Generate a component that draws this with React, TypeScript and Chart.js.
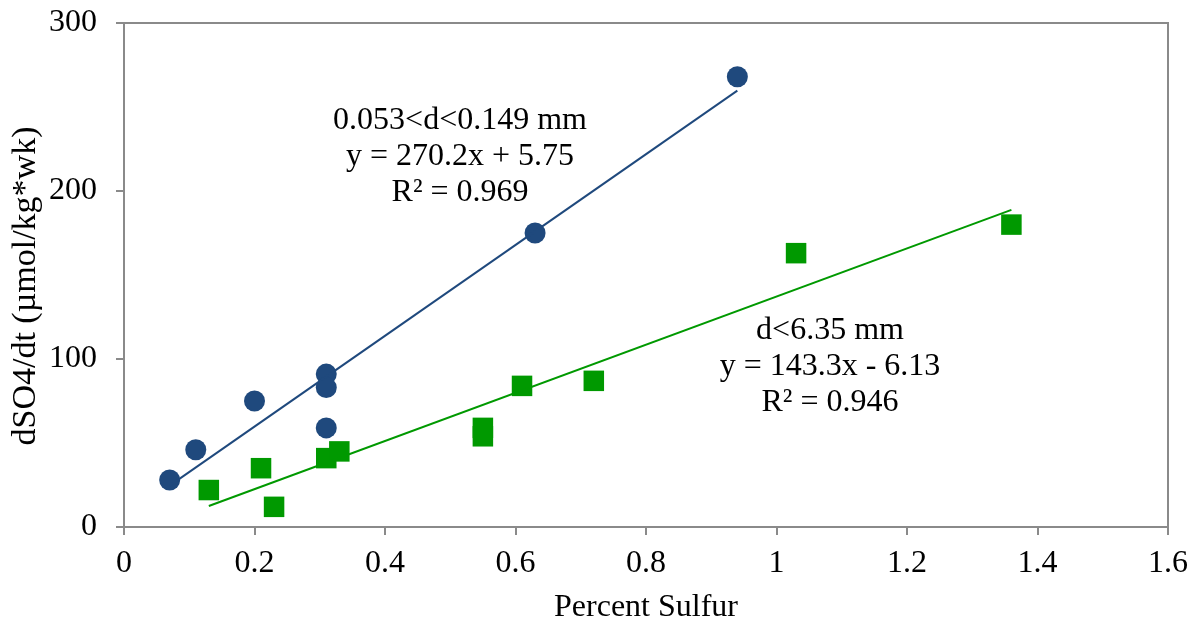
import React, { useEffect, useRef } from "react";
import { Chart, registerables } from "chart.js";

Chart.register(...registerables);

// Fine fraction 0.053<d<0.149 mm (blue circles)
const fineX = [0.07, 0.11, 0.2, 0.31, 0.31, 0.31, 0.63, 0.94];
const fineY = [28, 46, 75, 91, 83, 59, 175, 268];

// Coarse fraction d<6.35 mm (green squares)
const coarseX = [0.13, 0.21, 0.23, 0.31, 0.33, 0.55, 0.55, 0.61, 0.72, 1.03, 1.36];
const coarseY = [22, 35, 12, 41, 45, 59, 54, 84, 87, 163, 180];

// Linear trend lines as printed on the chart
const fineTrend = { slope: 270.2, intercept: 5.75 };
const coarseTrend = { slope: 143.3, intercept: -6.13 };

const fineLabel = ["0.053<d<0.149 mm", "y = 270.2x + 5.75", "R² = 0.969"];
const coarseLabel = ["d<6.35 mm", "y = 143.3x - 6.13", "R² = 0.946"];

const xTicks = [0, 0.2, 0.4, 0.6, 0.8, 1, 1.2, 1.4, 1.6];
const yTicks = [0, 100, 200, 300];

const xTitle = "Percent Sulfur";
const yTitle = "dSO4/dt (µmol/kg*wk)";

const BLUE = "#1F497D";
const GREEN = "#009900";
const AXIS = "#8a8a8a";
const FONT = "'Liberation Serif', 'Times New Roman', serif";
const FS = 32;

const zip = (xs: number[], ys: number[]) => xs.map((x, i) => ({ x, y: ys[i] }));
const trend = (xs: number[], t: { slope: number; intercept: number }) => {
  const lo = Math.min(...xs);
  const hi = Math.max(...xs);
  return [
    { x: lo, y: t.slope * lo + t.intercept },
    { x: hi, y: t.slope * hi + t.intercept },
  ];
};

const annotationPlugin = {
  id: "annots",
  afterDatasetsDraw(chart: any) {
    const { ctx, scales } = chart;
    const xs = scales.x;
    const ys = scales.y;
    const draw = (lines: string[], cx: number, cy: number) => {
      ctx.save();
      ctx.font = `${FS}px ${FONT}`;
      ctx.fillStyle = "#000";
      ctx.textAlign = "center";
      ctx.textBaseline = "middle";
      lines.forEach((l, i) => ctx.fillText(l, cx, cy + i * 36));
      ctx.restore();
    };
    draw(fineLabel, xs.getPixelForValue(0.515), ys.getPixelForValue(242));
    draw(coarseLabel, xs.getPixelForValue(1.082), ys.getPixelForValue(117));
  },
  afterDraw(chart: any) {
    const { ctx, chartArea } = chart;
    ctx.save();
    ctx.translate(26, (chartArea.top + chartArea.bottom) / 2 + 11);
    ctx.rotate(-Math.PI / 2);
    ctx.font = `34px ${FONT}`;
    ctx.fillStyle = "#000";
    ctx.textAlign = "center";
    ctx.textBaseline = "middle";
    ctx.fillText(yTitle, 0, 0);
    ctx.restore();
  },
};

const borderPlugin = {
  id: "frame",
  beforeDatasetsDraw(chart: any) {
    const { ctx, chartArea } = chart;
    ctx.save();
    ctx.strokeStyle = AXIS;
    ctx.lineWidth = 2;
    ctx.beginPath();
    ctx.moveTo(chartArea.left, chartArea.top);
    ctx.lineTo(chartArea.right, chartArea.top);
    ctx.lineTo(chartArea.right, chartArea.bottom);
    ctx.stroke();
    ctx.restore();
  },
};

export default function App() {
  const ref = useRef<HTMLCanvasElement | null>(null);

  useEffect(() => {
    if (!ref.current) return;
    const chart = new Chart(ref.current, {
      type: "scatter",
      data: {
        datasets: [
          {
            type: "line",
            data: trend(fineX, fineTrend),
            borderColor: BLUE,
            borderWidth: 2,
            pointRadius: 0,
            fill: false,
            order: 0,
          } as any,
          {
            type: "line",
            data: trend(coarseX, coarseTrend),
            borderColor: GREEN,
            borderWidth: 2,
            pointRadius: 0,
            fill: false,
            order: 0,
          } as any,
          {
            data: zip(fineX, fineY),
            backgroundColor: BLUE,
            borderColor: BLUE,
            pointStyle: "circle",
            pointRadius: 10.5,
            borderWidth: 0,
            order: 1,
          },
          {
            data: zip(coarseX, coarseY),
            backgroundColor: GREEN,
            borderColor: GREEN,
            pointStyle: "rect",
            pointRadius: 14.5,
            borderWidth: 0,
            order: 1,
          },
        ],
      },
      options: {
        animation: false,
        responsive: false,
        layout: { padding: { top: 23, right: 30, left: 0, bottom: 0 } },
        plugins: { legend: { display: false }, tooltip: { enabled: false } },
        scales: {
          x: {
            type: "linear",
            min: 0,
            max: 1.6,
            afterBuildTicks: (s: any) => {
              s.ticks = xTicks.map((v) => ({ value: v }));
            },
            afterFit: (s: any) => {
              s.height = 98;
              s.paddingLeft = 0;
              s.paddingRight = 0;
            },
            grid: {
              drawOnChartArea: false,
              drawTicks: true,
              tickLength: 8,
              color: AXIS,
              lineWidth: 2,
            },
            border: { display: true, color: AXIS, width: 2 },
            ticks: {
              padding: 9,
              color: "#000",
              font: { family: FONT, size: FS },
              callback: (v: any) => String(v),
            },
            title: {
              display: true,
              text: xTitle,
              color: "#000",
              font: { family: FONT, size: FS, lineHeight: 1.1 },
              padding: { top: 0, bottom: 0 },
            },
          },
          y: {
            type: "linear",
            min: 0,
            max: 300,
            afterBuildTicks: (s: any) => {
              s.ticks = yTicks.map((v) => ({ value: v }));
            },
            afterFit: (s: any) => {
              s.width = 124;
              s.paddingTop = 0;
              s.paddingBottom = 0;
            },
            grid: {
              drawOnChartArea: false,
              drawTicks: true,
              tickLength: 8,
              color: AXIS,
              lineWidth: 2,
            },
            border: { display: true, color: AXIS, width: 2 },
            ticks: {
              padding: 19,
              color: "#000",
              font: { family: FONT, size: FS },
              callback: (v: any) => String(v),
            },
            title: { display: false, text: yTitle },
          },
        },
      },
      plugins: [borderPlugin, annotationPlugin],
    });
    return () => chart.destroy();
  }, []);

  return (
    <div style={{ position: "fixed", left: 0, top: 0, width: 1198, height: 625, background: "#fff" }}>
      <canvas ref={ref} width={1198} height={625} style={{ display: "block" }} />
    </div>
  );
}
